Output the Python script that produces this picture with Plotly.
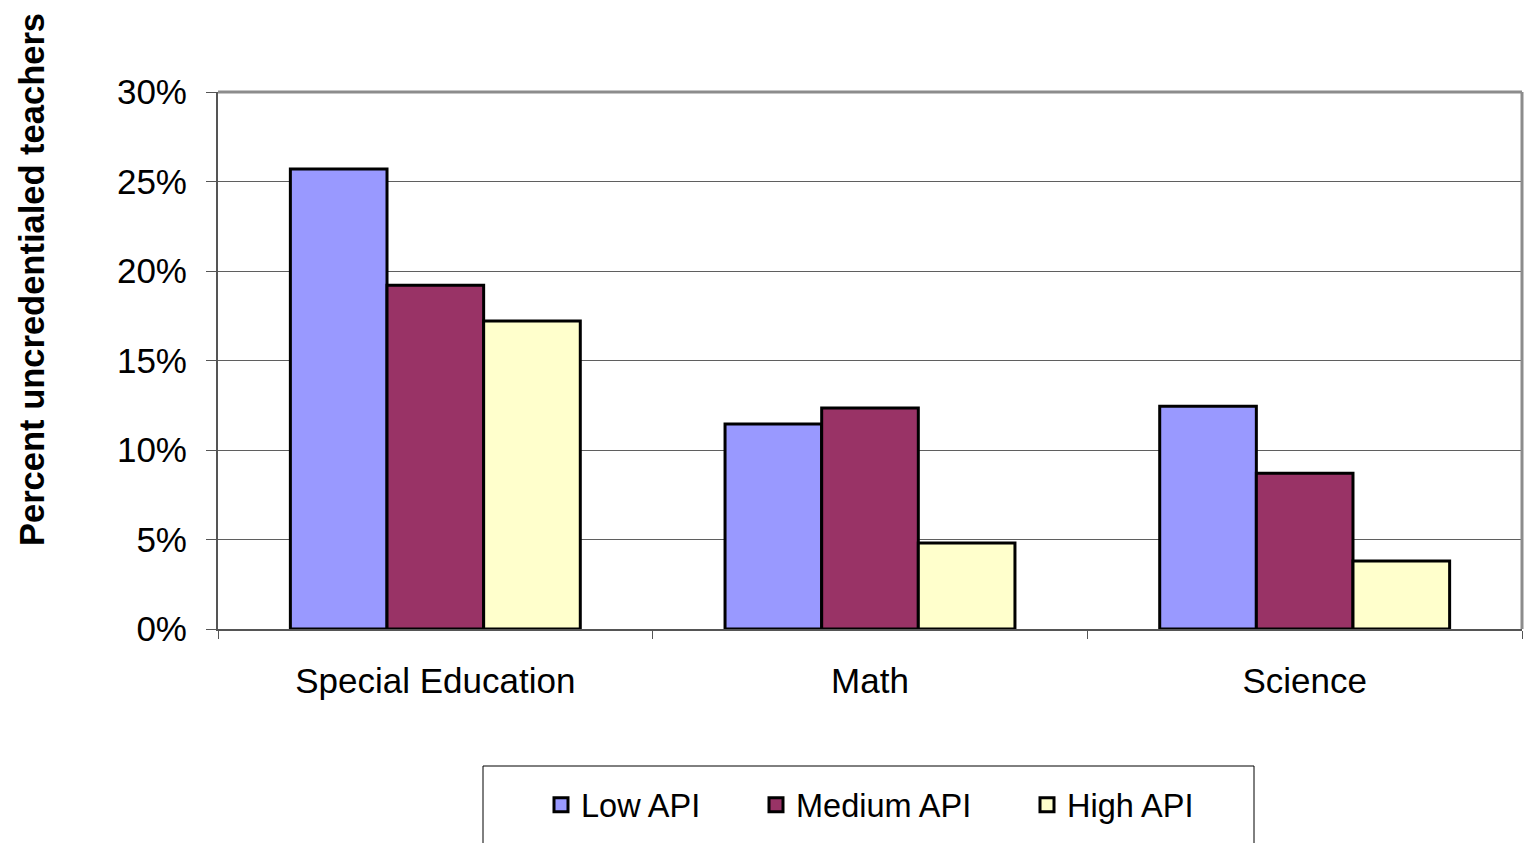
import plotly.graph_objects as go

# Share of uncredentialed teachers by subject and school API level
subjects = ["Special Education", "Math", "Science"]
low_api = [0.257, 0.1145, 0.1245]
medium_api = [0.192, 0.1235, 0.087]
high_api = [0.172, 0.048, 0.038]

series_names = ["Low API", "Medium API", "High API"]
series_values = [low_api, medium_api, high_api]
series_colors = ["#9999FF", "#993366", "#FFFFCC"]
legend_widths = [170, 226, 130]

FONT = "Liberation Sans, Arial, sans-serif"

fig = go.Figure()
for name, vals, color in zip(series_names, series_values, series_colors):
    fig.add_trace(go.Bar(
        name=name,
        x=subjects,
        y=vals,
        marker=dict(color=color, line=dict(color="#000000", width=3)),
        showlegend=False,
        legendgroup=name,
    ))

# legend keys: square swatches with a heavy black outline
for name, color, lw in zip(series_names, series_colors, legend_widths):
    fig.add_trace(go.Scatter(
        name=name,
        x=[None],
        y=[None],
        mode="markers",
        marker=dict(symbol="square", size=14, color=color,
                    line=dict(color="#000000", width=3)),
        legendgroup=name,
        legendwidth=lw,
        hoverinfo="skip",
    ))

# plot area geometry in pixels
W, H = 1527, 843
L, R, T, B = 218, 1522, 92, 629


def px_x(p):
    return (p - L) / (R - L)


def px_y(p):
    return (B - p) / (B - T)


fig.update_layout(
    width=W,
    height=H,
    margin=dict(l=L, r=W - R, t=T, b=H - B),
    paper_bgcolor="white",
    plot_bgcolor="white",
    barmode="group",
    bargap=0.333,
    bargroupgap=0,
    font=dict(family=FONT, size=33, color="#000000"),
    showlegend=True,
    legend=dict(
        orientation="h",
        x=px_x(541),
        xanchor="left",
        y=px_y(805),
        yanchor="middle",
        bgcolor="rgba(0,0,0,0)",
        borderwidth=0,
        font=dict(family=FONT, size=32.5, color="#000000"),
        itemsizing="trace",
    ),
    xaxis=dict(
        showline=True,
        linecolor="#555555",
        linewidth=2,
        ticks="outside",
        tickson="boundaries",
        ticklen=8,
        tickcolor="#555555",
        tickwidth=1,
        showgrid=False,
        tickfont=dict(family=FONT, size=35),
        ticklabelstandoff=20,
    ),
    yaxis=dict(
        range=[0, 0.30],
        dtick=0.05,
        tickformat=".0%",
        showline=True,
        linecolor="#555555",
        linewidth=2,
        ticks="outside",
        ticklen=10,
        tickcolor="#555555",
        tickwidth=1,
        showgrid=True,
        gridcolor="#5f5f5f",
        gridwidth=1,
        zeroline=False,
        tickfont=dict(family=FONT, size=35),
        ticklabelstandoff=12,
    ),
    shapes=[
        # top and right frame of the plot area
        dict(type="line", xref="paper", yref="paper", x0=0, x1=1, y0=1, y1=1,
             line=dict(color="#8c8c8c", width=3)),
        dict(type="line", xref="paper", yref="paper", x0=1, x1=1, y0=0, y1=1,
             line=dict(color="#8c8c8c", width=3)),
        # legend box
        dict(type="rect", xref="paper", yref="paper",
             x0=px_x(483), x1=px_x(1254), y0=px_y(860), y1=px_y(766),
             line=dict(color="#000000", width=1), fillcolor="rgba(0,0,0,0)", layer="below"),
    ],
    annotations=[
        dict(
            text="<b>Percent uncredentialed teachers</b>",
            textangle=-90,
            xref="paper", yref="paper",
            x=px_x(32), y=px_y(280),
            xanchor="center", yanchor="middle",
            showarrow=False,
            font=dict(family=FONT, size=34.5, color="#000000"),
        )
    ],
)

fig.write_html("out.html")
